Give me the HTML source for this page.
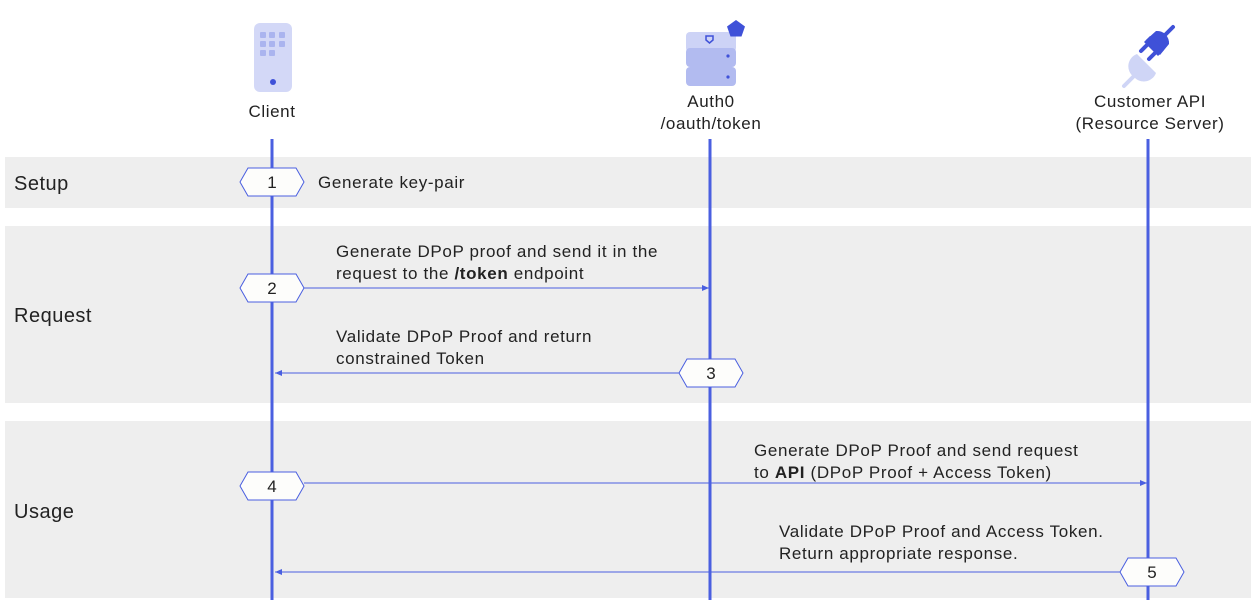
<!DOCTYPE html>
<html><head><style>
body{margin:0;width:1256px;height:600px;background:#fff;overflow:hidden;font-family:"Liberation Sans",sans-serif;}
svg text{font-family:"Liberation Sans",sans-serif;fill:#222;}
</style></head><body>
<svg width="1256" height="600" xmlns="http://www.w3.org/2000/svg">
<defs>
<marker id="ah" markerWidth="8" markerHeight="8" refX="7" refY="4" orient="auto" markerUnits="userSpaceOnUse"><path d="M0,1 L7,4 L0,7 Z" fill="#4a5fe0"/></marker>
</defs>
<rect x="5" y="157" width="1246" height="51" fill="#eeeeee"/>
<rect x="5" y="226" width="1246" height="177" fill="#eeeeee"/>
<rect x="5" y="421" width="1246" height="177" fill="#eeeeee"/>
<g font-size="20" letter-spacing="0.5"><text x="14" y="190">Setup</text><text x="14" y="322">Request</text><text x="14" y="518">Usage</text></g>
<!-- client icon -->
<rect x="254" y="23" width="38" height="69" rx="6" fill="#d3d8f7"/>
<g fill="#aab4ef"><rect x="260" y="32" width="6" height="6" rx="1"/><rect x="269" y="32" width="6" height="6" rx="1"/><rect x="279" y="32" width="6" height="6" rx="1"/><rect x="260" y="41" width="6" height="6" rx="1"/><rect x="269" y="41" width="6" height="6" rx="1"/><rect x="279" y="41" width="6" height="6" rx="1"/><rect x="260" y="50" width="6" height="6" rx="1"/><rect x="269" y="50" width="6" height="6" rx="1"/></g>
<circle cx="273" cy="82" r="3" fill="#3f51d8"/>
<!-- auth0 icon -->
<rect x="686" y="32" width="50" height="20" rx="4" fill="#cdd3f6"/>
<rect x="686" y="48" width="50" height="19" rx="4" fill="#b2bbf0"/>
<rect x="686" y="67" width="50" height="19" rx="4" fill="#b2bbf0"/>
<circle cx="728" cy="56" r="1.6" fill="#3f51d8"/><circle cx="728" cy="77" r="1.6" fill="#3f51d8"/>
<path d="M706,36 h7 v4 l-3.5,3 l-3.5,-3z" fill="none" stroke="#3f51d8" stroke-width="1.5"/>
<path d="M736,20 l9,6.5 l-3.5,10 h-11 l-3.5,-10z" fill="#3f51d8"/>
<!-- plug icon -->
<path d="M1137,54 l19,19 a13,13 0 0 1 -22,4 a13,13 0 0 1 3,-23z" fill="#cfd5f6"/>
<line x1="1134" y1="76" x2="1124" y2="86" stroke="#cfd5f6" stroke-width="4" stroke-linecap="round"/>
<path d="M1146,40 l10,-9 a12,12 0 0 1 13,13 l-9,11 z" fill="#3f51d8"/>
<path d="M1150,36 l14,14 l-6,6 l-14,-14z" fill="#3f51d8"/>
<line x1="1164" y1="36" x2="1173" y2="27" stroke="#3f51d8" stroke-width="4" stroke-linecap="round"/>
<line x1="1148" y1="44" x2="1141" y2="51" stroke="#3f51d8" stroke-width="4" stroke-linecap="round"/>
<line x1="1156" y1="52" x2="1149" y2="59" stroke="#3f51d8" stroke-width="4" stroke-linecap="round"/>
<g font-size="17" letter-spacing="0.6" text-anchor="middle"><text x="272" y="117">Client</text><text x="711" y="107">Auth0</text><text x="711" y="129">/oauth/token</text><text x="1150" y="107">Customer API</text><text x="1150" y="129">(Resource Server)</text></g>
<!-- lifelines -->
<g stroke="#4a5fe0" stroke-width="3"><line x1="272" y1="139" x2="272" y2="600"/><line x1="710" y1="139" x2="710" y2="600"/><line x1="1148" y1="139" x2="1148" y2="600"/></g>
<!-- arrows -->
<g stroke="#4a5fe0" stroke-width="1" marker-end="url(#ah)">
<line x1="304" y1="288" x2="709" y2="288"/>
<line x1="679" y1="373" x2="275" y2="373"/>
<line x1="304" y1="483" x2="1147" y2="483"/>
<line x1="1120" y1="572" x2="275" y2="572"/>
</g>
<!-- hexes -->
<g fill="#fdfdfb" stroke="#4a5fe0" stroke-width="1">
<path d="M240,182 l8,-14 h48 l8,14 l-8,14 h-48z"/>
<path d="M240,288 l8,-14 h48 l8,14 l-8,14 h-48z"/>
<path d="M679,373 l8,-14 h48 l8,14 l-8,14 h-48z"/>
<path d="M240,486 l8,-14 h48 l8,14 l-8,14 h-48z"/>
<path d="M1120,572 l8,-14 h48 l8,14 l-8,14 h-48z"/>
</g>
<g font-size="17" text-anchor="middle"><text x="272" y="188">1</text><text x="272" y="294">2</text><text x="711" y="379">3</text><text x="272" y="492">4</text><text x="1152" y="578">5</text></g>
<g font-size="17" letter-spacing="0.65">
<text x="318" y="188">Generate key-pair</text>
<text x="336" y="257">Generate DPoP proof and send it in the</text>
<text x="336" y="279">request to the <tspan font-weight="bold">/token</tspan> endpoint</text>
<text x="336" y="342">Validate DPoP Proof and return</text>
<text x="336" y="364">constrained Token</text>
<text x="754" y="456">Generate DPoP Proof and send request</text>
<text x="754" y="478">to <tspan font-weight="bold">API</tspan> (DPoP Proof + Access Token)</text>
<text x="779" y="537">Validate DPoP Proof and Access Token.</text>
<text x="779" y="559">Return appropriate response.</text>
</g>
</svg>
</body></html>
